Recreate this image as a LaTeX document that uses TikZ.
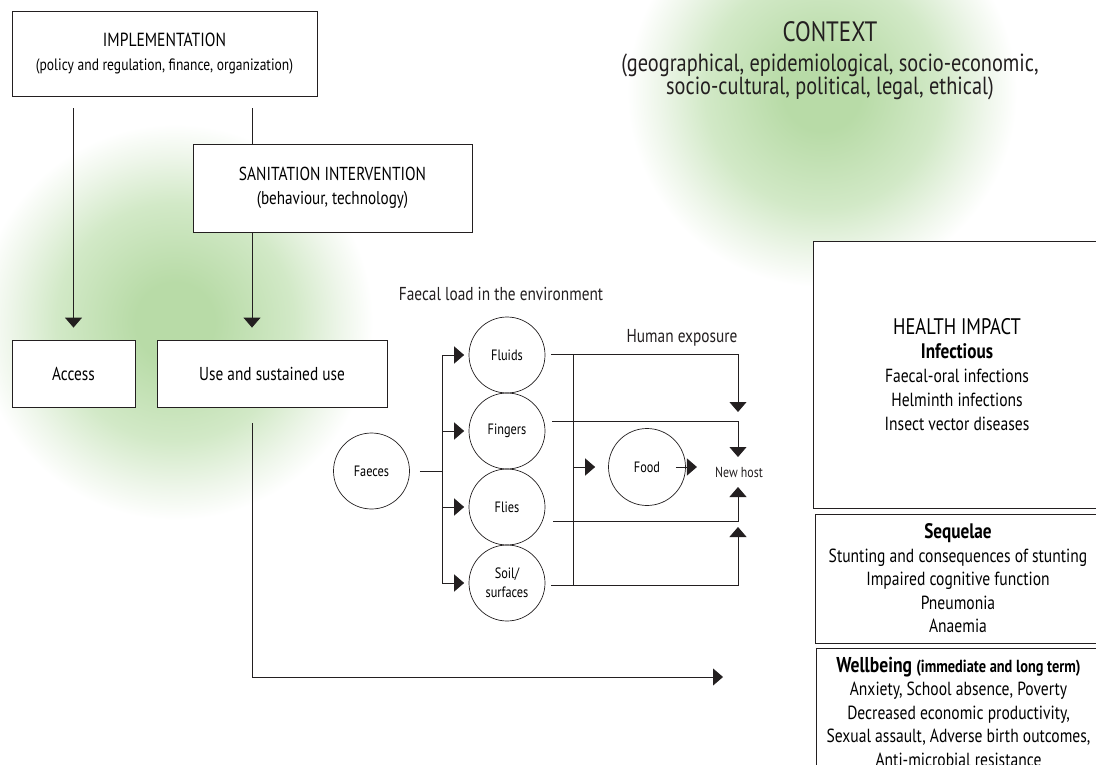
\documentclass[tikz,border=0pt]{standalone}
\usepackage{fontspec}
\setmainfont{PT Sans}[FakeStretch=0.82]
\usetikzlibrary{arrows.meta}
\definecolor{ink}{RGB}{35,31,32}
\definecolor{blob}{RGB}{184,219,167}
\definecolor{blobmid}{RGB}{210,233,199}
\definecolor{blobout}{RGB}{238,246,234}
\pgfdeclareradialshading{blobshade}{\pgfpoint{0bp}{0bp}}{color(0bp)=(blob); color(5bp)=(blob); color(15bp)=(blobmid); color(21bp)=(blobout); color(25bp)=(white); color(50bp)=(white)}
\begin{document}
\begin{tikzpicture}[x=1pt,y=-1pt,
  box/.style={draw=ink, line width=0.8pt, fill=white, align=center, inner sep=0pt},
  circ/.style={draw=ink, line width=0.7pt, circle, minimum size=76pt, inner sep=0pt, align=center, font=\fontsize{15}{19}\selectfont},
  conn/.style={draw=ink, line width=0.9pt},
  arr/.style={conn, -{Triangle[length=10pt,width=17pt]}},
  lbl/.style={inner sep=0pt, align=center, text=ink}]
\useasboundingbox (0,0) rectangle (1096,765);
\clip (0,0) rectangle (1096,765);
\fill[white] (0,0) rectangle (1096,765);
% green blobs
\shade[shading=blobshade] (822,92) circle (195);
\shade[shading=blobshade] (175,322) circle (198);

% context
\node[lbl, font=\fontsize{28}{30}\selectfont] (ctx) at (830,32) {CONTEXT};
\node[lbl, font=\fontsize{24.8}{23.5}\selectfont] (ctxsub) at (830,77)
  {(geographical, epidemiological, socio-economic,\\ socio-cultural, political, legal, ethical)};

% left boxes
\node[box, minimum width=305pt, minimum height=85pt, font=\fontsize{16.5}{24}\selectfont] (impl) at (164.5,53.5)
  {{\fontsize{19}{24}\selectfont IMPLEMENTATION}\\(policy and regulation, finance, organization)};
\node[box, minimum width=279pt, minimum height=88pt, font=\fontsize{18.5}{24}\selectfont] (sanit) at (332.5,188)
  {{\fontsize{18.8}{24}\selectfont SANITATION INTERVENTION}\\(behaviour, technology)};
\node[box, minimum width=123pt, minimum height=67pt, font=\fontsize{18.7}{20}\selectfont] (access) at (73.5,373.5) {Access};
\node[box, minimum width=230pt, minimum height=67pt, font=\fontsize{18.7}{20}\selectfont] (use) at (272,373.5) {Use and sustained use};

\coordinate (sIn) at (252,144);
\draw[arr, shorten <=12pt, shorten >=12pt] (impl.south -| access.north) -- (access.north);
\draw[conn, shorten <=12pt] (impl.south -| sIn) -- (sIn);
\draw[arr, shorten >=12pt] (sIn |- sanit.south) -- (sIn |- use.north);

% F-diagram
\node[lbl, font=\fontsize{18.7}{20}\selectfont] (load) at (501,294) {Faecal load in the environment};
\node[lbl, font=\fontsize{18.7}{20}\selectfont] (expo) at (682,338) {Human exposure};

\node[circ] (faeces) at (371.5,471) {Faeces};
\node[circ] (fluids) at (507,355) {Fluids};
\node[circ] (fingers) at (507,431) {Fingers};
\node[circ] (flies) at (507,507) {Flies};
\node[circ] (soil) at (507,583) {Soil/\\surfaces};
\node[circ, minimum size=77pt] (food) at (647,467) {Food};
\node[lbl, font=\fontsize{14.5}{16}\selectfont] (host) at (739,472) {New host};

\coordinate (bx) at (442,471);
\draw[conn, shorten <=10pt] (faeces.east) -- (bx);
\draw[conn] (bx |- fluids) -- (bx |- soil);
\foreach \n in {fluids,fingers,flies,soil}
  \draw[arr, shorten >=4.5pt] (bx |- \n) -- (\n.west);

\coordinate (tFlu) at (738,412);
\coordinate (tFin) at (738,457);
\coordinate (tFli) at (738,487);
\coordinate (tSoi) at (738,527);
\draw[arr] ([xshift=6pt,yshift=1pt]fluids.east) -| (tFlu);
\draw[arr] ([xshift=7pt,yshift=10pt]fingers.east) -| (tFin);
\draw[arr] ([xshift=8pt,yshift=-14pt]flies.east) -| (tFli);
\draw[arr] ([xshift=6pt,yshift=-2pt]soil.east) -| (tSoi);

\coordinate (vTop) at (573,354);
\coordinate (vBot) at (573,585);
\draw[conn] (vTop) -- (vBot);
\draw[arr, shorten >=13pt] (vTop |- food) -- (food.west);
\draw[arr, shorten >=18pt] ([xshift=-10pt]food.east) -- (food.east -| host.west);

% outcome boxes
\node[box, minimum width=288pt, minimum height=267pt, font=\fontsize{19}{24}\selectfont] (health) at (957,374.5)
  {{\fontsize{22.5}{24}\selectfont HEALTH IMPACT}\\{\fontsize{21}{24}\selectfont\bfseries Infectious}\\Faecal-oral infections\\Helminth infections\\Insect vector diseases};
\node[box, minimum width=286pt, minimum height=129pt, font=\fontsize{19}{23.5}\selectfont] (seq) at (958,578.5)
  {{\fontsize{21}{23.5}\selectfont\bfseries Sequelae}\\Stunting and consequences of stunting\\Impaired cognitive function\\Pneumonia\\Anaemia};
\node[box, minimum width=285pt, minimum height=127pt, font=\fontsize{19}{23.5}\selectfont] (well) at (958.5,711.5)
  {{\fontsize{21.5}{23.5}\selectfont\bfseries Wellbeing} {\fontsize{17.5}{23.5}\selectfont\bfseries(immediate and long term)}\\Anxiety, School absence, Poverty\\Decreased economic productivity,\\Sexual assault, Adverse birth outcomes,\\Anti-microbial resistance};

\coordinate (hEnd) at (723,677);
\draw[arr, shorten <=16pt] (use.south -| sIn) |- (hEnd);
\end{tikzpicture}
\end{document}
